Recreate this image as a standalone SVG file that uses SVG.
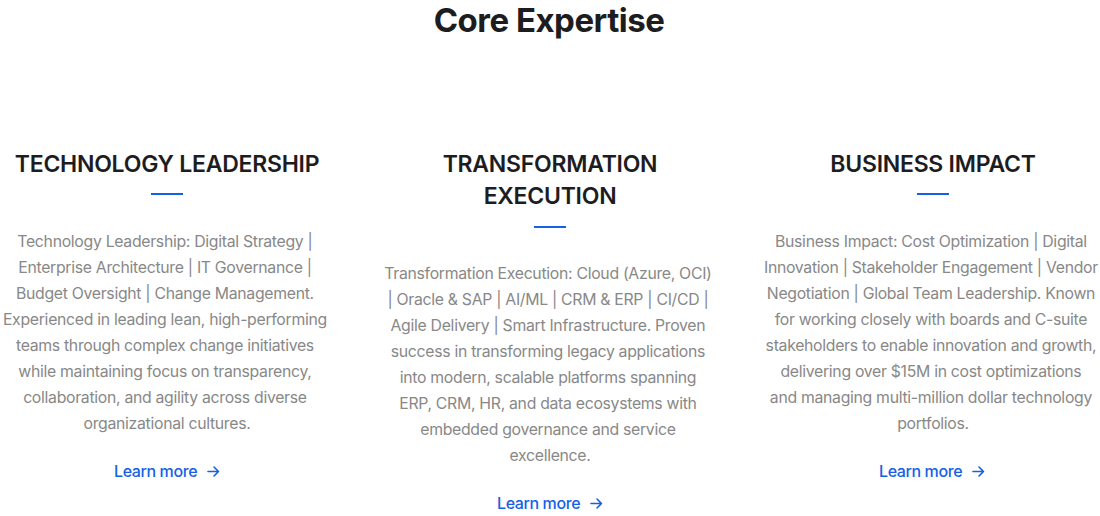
<svg xmlns="http://www.w3.org/2000/svg" width="1100" height="516" viewBox="0 0 1100 516">
<style>
.title{font-family:Inter,"Liberation Sans",sans-serif;font-size:33px;font-weight:700;fill:#1d1d1f;text-anchor:middle;letter-spacing:-0.5px}
.head{font-family:Inter,"Liberation Sans",sans-serif;font-size:23px;font-weight:600;fill:#1d1d1f;text-anchor:middle;letter-spacing:-0.25px}
.body{font-family:Inter,"Liberation Sans",sans-serif;font-size:15.8px;font-weight:400;fill:#888888;text-anchor:middle;letter-spacing:-0.3px}
.link{font-family:Inter,"Liberation Sans",sans-serif;font-size:16px;font-weight:500;fill:#1560e6;letter-spacing:-0.4px}
.bar{fill:#1560e6}
.arrow{fill:none;stroke:#1560e6;stroke-width:1.6;stroke-linecap:round;stroke-linejoin:round}
</style>
<rect width="1100" height="516" fill="#ffffff"/>
<text class="title" x="549" y="32">Core Expertise</text>
<g id="tech">
<text class="head" x="167" y="172">TECHNOLOGY LEADERSHIP</text>
<rect class="bar" x="151" y="193" width="32" height="2"/>
<text class="body">
<tspan x="167" y="247">Technology Leadership: Digital Strategy |</tspan>
<tspan x="167" y="273">Enterprise Architecture | IT Governance |</tspan>
<tspan x="167" y="299">Budget Oversight | Change Management.</tspan>
<tspan x="167" y="325">Experienced in leading lean, high-performing</tspan>
<tspan x="167" y="351">teams through complex change initiatives</tspan>
<tspan x="167" y="377">while maintaining focus on transparency,</tspan>
<tspan x="167" y="403">collaboration, and agility across diverse</tspan>
<tspan x="167" y="429">organizational cultures.</tspan>
</text>
<text class="link" x="114" y="477">Learn more</text>
<path class="arrow" d="M208 471.5H218.5M214 467L218.5 471.5L214 476"/>
</g>
<g id="transform">
<text class="head" x="550" y="172">TRANSFORMATION</text>
<text class="head" x="550" y="204">EXECUTION</text>
<rect class="bar" x="534" y="226" width="32" height="2"/>
<text class="body">
<tspan x="550" y="279">Transformation Execution: Cloud (Azure, OCI)</tspan>
<tspan x="550" y="305">| Oracle &amp; SAP | AI/ML | CRM &amp; ERP | CI/CD |</tspan>
<tspan x="550" y="331">Agile Delivery | Smart Infrastructure. Proven</tspan>
<tspan x="550" y="357">success in transforming legacy applications</tspan>
<tspan x="550" y="383">into modern, scalable platforms spanning</tspan>
<tspan x="550" y="409">ERP, CRM, HR, and data ecosystems with</tspan>
<tspan x="550" y="435">embedded governance and service</tspan>
<tspan x="550" y="461">excellence.</tspan>
</text>
<text class="link" x="497" y="509">Learn more</text>
<path class="arrow" d="M591 503.5H601.5M597 499L601.5 503.5L597 508"/>
</g>
<g id="business">
<text class="head" x="933" y="172">BUSINESS IMPACT</text>
<rect class="bar" x="917" y="193" width="32" height="2"/>
<text class="body">
<tspan x="933" y="247">Business Impact: Cost Optimization | Digital</tspan>
<tspan x="933" y="273">Innovation | Stakeholder Engagement | Vendor</tspan>
<tspan x="933" y="299">Negotiation | Global Team Leadership. Known</tspan>
<tspan x="933" y="325">for working closely with boards and C-suite</tspan>
<tspan x="933" y="351">stakeholders to enable innovation and growth,</tspan>
<tspan x="933" y="377">delivering over $15M in cost optimizations</tspan>
<tspan x="933" y="403">and managing multi-million dollar technology</tspan>
<tspan x="933" y="429">portfolios.</tspan>
</text>
<text class="link" x="879" y="477">Learn more</text>
<path class="arrow" d="M973 471.5H983.5M979 467L983.5 471.5L979 476"/>
</g>
<g id="connectors"></g>
</svg>
